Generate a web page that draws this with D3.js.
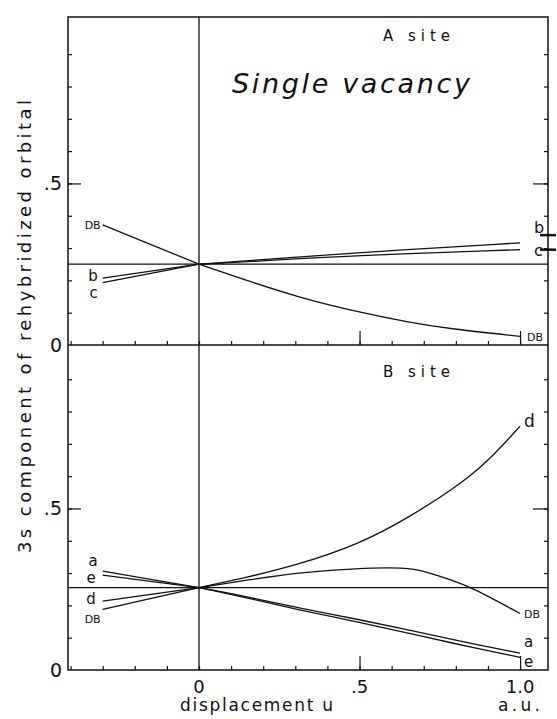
<!DOCTYPE html>
<html>
<head>
<meta charset="utf-8">
<script src="https://cdn.jsdelivr.net/npm/d3@7"></script>
<style>
	body { margin: 0; background: #fff; }
	text { font-family: "DejaVu Sans", sans-serif; fill: #111; }
</style>
</head>
<body>
<svg id="chart" width="557" height="719"></svg>
<script>
// ---- data (u, 3s component) ----
// A site
var aSiteDB = [[-0.3, 0.372], [0, 0.25], [0.16, 0.196], [0.315, 0.146], [0.5, 0.101], [0.657, 0.07], [0.78, 0.05], [1.0, 0.027]];
var aSiteB = [[-0.3, 0.207], [0, 0.25], [0.16, 0.261], [0.47, 0.285], [1.0, 0.316]];
var aSiteC = [[-0.3, 0.193], [0, 0.25], [0.16, 0.258], [0.47, 0.277], [1.0, 0.295]];
var aSiteMarks = [0.34, 0.295]; // b, c marks on right border
// B site
var bSiteA = [[-0.3, 0.306], [0, 0.255], [0.16, 0.225], [0.315, 0.191], [0.5, 0.156], [0.657, 0.123], [0.78, 0.096], [1.0, 0.052]];
var bSiteE = [[-0.3, 0.294], [0, 0.255], [0.16, 0.221], [0.315, 0.185], [0.5, 0.148], [0.657, 0.113], [0.78, 0.085], [1.0, 0.039]];
var bSiteD = [[-0.3, 0.213], [0, 0.255], [0.15, 0.287], [0.3, 0.323], [0.5, 0.39], [0.65, 0.47], [0.8, 0.565], [0.9, 0.645], [1.0, 0.755]];
var bSiteDB = [[-0.3, 0.188], [0, 0.255], [0.16, 0.28], [0.315, 0.302], [0.45, 0.312], [0.65, 0.32], [0.72, 0.3], [0.78, 0.281], [0.85, 0.256], [1.0, 0.175]];
var refLevels = [0.25, 0.255]; // horizontal reference line, A and B panel

var xMajorTicks = [0.5, 1.0];
var xTickLabels = ['0', '.5', '1.0'];
var xLabelTicks = [0, 0.5, 1.0];
var yMajorTicks = [0, 0.5];
var yTickLabels = ['0', '.5'];

var minorX = d3.range(-0.4, 1.05, 0.1);
var minorY = d3.range(0.1, 1.0, 0.1);

////////// layout ////////
var frame = { left: 68, right: 548, top: 17, mid: 345, bottom: 670 };

var svg = d3.select('#chart');

var x = d3.scaleLinear().domain([-0.408, 1.087]).range([frame.left, frame.right]);
var yTop = d3.scaleLinear().domain([0, 1.015]).range([frame.mid, frame.top]);
var yBot = d3.scaleLinear().domain([0, 1.006]).range([frame.bottom, frame.mid]);

var ink = '#111';

// frame
svg.append('rect')
	.attr('x', frame.left).attr('y', frame.top)
	.attr('width', frame.right - frame.left)
	.attr('height', frame.bottom - frame.top)
	.attr('fill', 'none').attr('stroke', ink).attr('stroke-width', 1.5);

svg.append('line')
	.attr('x1', frame.left).attr('x2', frame.right)
	.attr('y1', frame.mid).attr('y2', frame.mid)
	.attr('stroke', ink).attr('stroke-width', 1.5);

// vertical u = 0 line
svg.append('line')
	.attr('x1', x(0)).attr('x2', x(0))
	.attr('y1', frame.top).attr('y2', frame.bottom)
	.attr('stroke', ink).attr('stroke-width', 1.3);

function drawAxes(yScale, zeroY) {
	// bottom: minor then major ticks, pointing up
	var g = svg.append('g').attr('transform', 'translate(0,' + zeroY + ')');
	g.call(d3.axisBottom(x).tickValues(minorX).tickSize(-4).tickSizeOuter(0).tickFormat(''));
	g.append('g').call(d3.axisBottom(x).tickValues(xMajorTicks).tickSize(-14).tickSizeOuter(0).tickFormat(''));
	// left
	var gl = svg.append('g').attr('transform', 'translate(' + frame.left + ',0)');
	gl.call(d3.axisLeft(yScale).tickValues(minorY).tickSize(-4).tickSizeOuter(0).tickFormat(''));
	gl.append('g').call(d3.axisLeft(yScale).tickValues([0.5]).tickSize(-13).tickSizeOuter(0).tickFormat(''));
	// right
	var gr = svg.append('g').attr('transform', 'translate(' + frame.right + ',0)');
	gr.call(d3.axisRight(yScale).tickValues(minorY).tickSize(-4).tickSizeOuter(0).tickFormat(''));
	gr.append('g').call(d3.axisRight(yScale).tickValues([0.5]).tickSize(-15).tickSizeOuter(0).tickFormat(''));

	svg.selectAll('.domain').remove();
	svg.selectAll('.tick line').attr('stroke', ink).attr('stroke-width', 1.2);

	// y tick labels
	svg.append('g').selectAll('text')
		.data(yMajorTicks)
		.enter()
		.append('text')
		.attr('x', frame.left - 6)
		.attr('y', d => yScale(d))
		.attr('dy', '0.36em')
		.attr('text-anchor', 'end')
		.attr('font-size', 19)
		.text((d, i) => yTickLabels[i]);
}

drawAxes(yTop, frame.mid);
drawAxes(yBot, frame.bottom);

// horizontal reference lines
svg.append('line')
	.attr('x1', frame.left).attr('x2', frame.right)
	.attr('y1', yTop(refLevels[0])).attr('y2', yTop(refLevels[0]))
	.attr('stroke', ink).attr('stroke-width', 1.3);
svg.append('line')
	.attr('x1', frame.left).attr('x2', frame.right)
	.attr('y1', yBot(refLevels[1])).attr('y2', yBot(refLevels[1]))
	.attr('stroke', ink).attr('stroke-width', 1.3);

// curves: straight for u < 0, smooth for u >= 0
function drawSeries(s, yScale) {
	var left = s.filter(d => d[0] <= 0);
	var right = s.filter(d => d[0] >= 0);
	svg.append('path')
		.attr('d', d3.line().x(d => x(d[0])).y(d => yScale(d[1]))(left))
		.attr('fill', 'none').attr('stroke', ink).attr('stroke-width', 1.3);
	svg.append('path')
		.attr('d', d3.line().x(d => x(d[0])).y(d => yScale(d[1]))
			.curve(d3.curveBasis)(right))
		.attr('fill', 'none').attr('stroke', ink).attr('stroke-width', 1.3);
}

[aSiteDB, aSiteB, aSiteC].forEach(s => drawSeries(s, yTop));
[bSiteA, bSiteE, bSiteD, bSiteDB].forEach(s => drawSeries(s, yBot));

// b, c marks on the right border
svg.append('g').selectAll('line')
	.data(aSiteMarks)
	.enter()
	.append('line')
	.attr('x1', frame.right - 8).attr('x2', frame.right + 8)
	.attr('y1', d => yTop(d)).attr('y2', d => yTop(d))
	.attr('stroke', ink).attr('stroke-width', 2.5);

// curve labels
function lastOf(s) { return s[s.length - 1]; }
var curveLabels = [
	{ t: 'DB', s: aSiteDB, y: yTop, end: 0, dx: -2, dy: 0, size: 11 },
	{ t: 'b', s: aSiteB, y: yTop, end: 0, dx: -5, dy: -2, size: 15 },
	{ t: 'c', s: aSiteC, y: yTop, end: 0, dx: -5, dy: 10, size: 15 },
	{ t: 'b', s: aSiteB, y: yTop, end: 1, dx: 14, dy: -15, size: 16 },
	{ t: 'c', s: aSiteC, y: yTop, end: 1, dx: 14, dy: 1, size: 16 },
	{ t: 'DB', s: aSiteDB, y: yTop, end: 1, dx: 7, dy: 1, size: 11 },
	{ t: 'a', s: bSiteA, y: yBot, end: 0, dx: -5, dy: -10, size: 15 },
	{ t: 'e', s: bSiteE, y: yBot, end: 0, dx: -7, dy: 3, size: 15 },
	{ t: 'd', s: bSiteD, y: yBot, end: 0, dx: -7, dy: -2, size: 15 },
	{ t: 'DB', s: bSiteDB, y: yBot, end: 0, dx: -2, dy: 10, size: 11 },
	{ t: 'd', s: bSiteD, y: yBot, end: 1, dx: 4, dy: -5, size: 17 },
	{ t: 'DB', s: bSiteDB, y: yBot, end: 1, dx: 4, dy: 1, size: 11 },
	{ t: 'a', s: bSiteA, y: yBot, end: 1, dx: 4, dy: -11, size: 15 },
	{ t: 'e', s: bSiteE, y: yBot, end: 1, dx: 4, dy: 4, size: 15 }
];
svg.append('g').selectAll('text')
	.data(curveLabels)
	.enter()
	.append('text')
	.attr('x', d => x(d.end ? lastOf(d.s)[0] : d.s[0][0]) + d.dx)
	.attr('y', d => d.y(d.end ? lastOf(d.s)[1] : d.s[0][1]) + d.dy)
	.attr('dy', '0.35em')
	.attr('text-anchor', d => d.end ? 'start' : 'end')
	.attr('font-size', d => d.size)
	.text(d => d.t);

// x tick labels
svg.append('g').selectAll('text')
	.data(xLabelTicks)
	.enter()
	.append('text')
	.attr('x', d => x(d))
	.attr('y', 693)
	.attr('text-anchor', 'middle')
	.attr('font-size', 18)
	.text((d, i) => xTickLabels[i]);

// titles
svg.append('text')
	.attr('x', 383).attr('y', 41)
	.attr('font-size', 15)
	.attr('textLength', 67).attr('lengthAdjust', 'spacing')
	.text('A site');
svg.append('text')
	.attr('x', 383).attr('y', 377)
	.attr('font-size', 15)
	.attr('textLength', 67).attr('lengthAdjust', 'spacing')
	.text('B site');
svg.append('text')
	.attr('x', 232).attr('y', 93)
	.attr('font-size', 27)
	.attr('font-style', 'italic')
	.attr('font-family', '"DejaVu Serif", serif')
	.attr('textLength', 238).attr('lengthAdjust', 'spacing')
	.text('Single vacancy');

// axis titles
svg.append('text')
	.attr('x', 180).attr('y', 711)
	.attr('font-size', 17)
	.attr('textLength', 153).attr('lengthAdjust', 'spacing')
	.text('displacement u');
svg.append('text')
	.attr('x', 498).attr('y', 711)
	.attr('font-size', 17)
	.attr('textLength', 42).attr('lengthAdjust', 'spacing')
	.text('a.u.');
svg.append('text')
	.attr('transform', 'translate(31,553) rotate(-90)')
	.attr('font-size', 18)
	.attr('textLength', 453).attr('lengthAdjust', 'spacing')
	.text('3s component of rehybridized orbital');
</script>
</body>
</html>
